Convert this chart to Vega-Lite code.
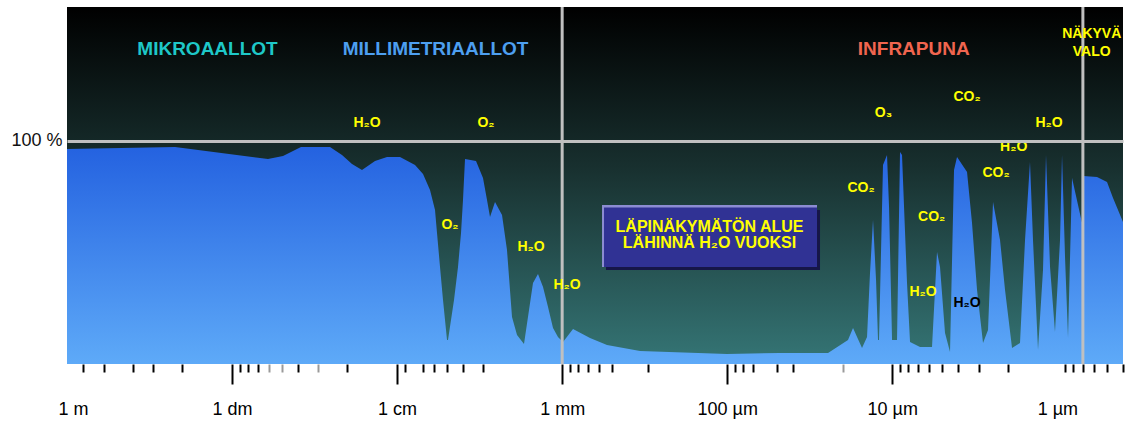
{
  "$schema": "https://vega.github.io/schema/vega-lite/v6.json",
  "width": 1056,
  "height": 357,
  "autosize": {"type": "none"},
  "padding": {"left": 67, "top": 7, "right": 9, "bottom": 57},
  "background": "white",
  "config": {"view": {"stroke": null}, "font": "Liberation Sans"},
  "encoding": {
    "x": {"field": "wl", "type": "quantitative", "scale": {"type": "log", "domain": [0.4, 1000000], "reverse": true, "nice": false},
      "axis": {
        "values": [1000000,800000,600000,400000,300000,200000,100000,90000,80000,70000,60000,50000,40000,30000,20000,10000,9000,7000,6000,5000,4000,3000,1000,900,800,700,600,500,300,100,90,80,70,50,40,20,10,9,8,7,6,5,4,3,2,1,0.9,0.8,0.7,0.6,0.5,0.4],
        "labelExpr": "datum.value==1000000?'1 m':datum.value==100000?'1 dm':datum.value==10000?'1 cm':datum.value==1000?'1 mm':datum.value==100?'100 µm':datum.value==10?'10 µm':datum.value==1?'1 µm':''",
        "title": null, "domain": false, "grid": false,
        "tickColor": {"condition": {"test": "datum.value==60000||datum.value==50000||datum.value==30000||datum.value==20", "value": "#9a9a9a"}, "value": "#000000"},
        "tickSize": {"condition": {"test": "datum.value==1000000||datum.value==100000||datum.value==10000||datum.value==1000||datum.value==100||datum.value==10||datum.value==1", "value": 20}, "value": 8},
        "tickOpacity": {"condition": {"test": "datum.value==1000000||datum.value==1", "value": 0}, "value": 1},
        "tickWidth": 2,
        "labelOffset": {"condition": {"test": "datum.value==1000000", "value": 6}, "value": 0},
        "labelFont": "Liberation Sans", "labelFontSize": 18, "labelColor": "#000000",
        "labelBaseline": "alphabetic", "labelPadding": 30,
        "labelOverlap": false, "labelFlush": false, "labelBound": false
      }
    },
    "y": {"field": "t", "type": "quantitative", "scale": {"domain": [0, 160], "nice": false},
      "axis": {"values": [100], "labelExpr": "'100 %'", "title": null, "ticks": false, "domain": false, "grid": true, "gridColor": "#c0c0c0", "gridWidth": 3, "labelFont": "Liberation Sans", "labelFontSize": 18, "labelColor": "#111111", "labelPadding": 5, "zindex": 1}
    }
  },
  "layer": [
    {
      "data": {"values": [{"wl": 1000000, "wl2": 0.4, "t": 0, "t2": 160}]},
      "mark": {"type": "rect", "stroke": null, "fill": {"gradient": "linear", "x1": 0, "y1": 0, "x2": 0, "y2": 1, "stops": [{"offset": 0, "color": "#000000"}, {"offset": 0.45, "color": "#18302f"}, {"offset": 1, "color": "#357676"}]}},
      "encoding": {"x2": {"field": "wl2"}, "y2": {"field": "t2"}}
    },
    {
      "data": {"values": [
        {"wl":1000000,"t":96.4},{"wl":221600,"t":97.3},{"wl":60560,"t":91.9},{"wl":49120,"t":93.2},{"wl":38220,"t":97.3},{"wl":25500,"t":97.3},{"wl":21570,"t":93.7},{"wl":18760,"t":89.6},{"wl":16320,"t":87.0},{"wl":13610,"t":91.0},{"wl":11510,"t":92.8},{"wl":9603,"t":92.8},{"wl":7790,"t":89.2},{"wl":6967,"t":85.2},{"wl":6319,"t":78.0},{"wl":5893,"t":69.0},{"wl":5731,"t":58.7},{"wl":5496,"t":43.5},{"wl":5271,"t":28.7},{"wl":4985,"t":10.8},{"wl":4916,"t":10.8},{"wl":4521,"t":28.7},{"wl":4276,"t":43.5},{"wl":4100,"t":58.7},{"wl":3988,"t":73.5},{"wl":3878,"t":91.9},{"wl":3326,"t":91.0},{"wl":3017,"t":83.4},{"wl":2853,"t":73.5},{"wl":2736,"t":65.9},{"wl":2552,"t":72.6},{"wl":2314,"t":66.8},{"wl":2159,"t":51.1},{"wl":2013,"t":21.1},{"wl":1877,"t":13.0},{"wl":1703,"t":9.0},{"wl":1502,"t":36.3},{"wl":1401,"t":40.3},{"wl":1306,"t":34.5},{"wl":1218,"t":25.6},{"wl":1136,"t":16.1},{"wl":1060,"t":12.1},{"wl":988,"t":9.9},{"wl":859.5,"t":15.7},{"wl":678,"t":11.7},{"wl":534.9,"t":8.5},{"wl":337.5,"t":5.8},{"wl":100.3,"t":4.5},{"wl":47.87,"t":4.9},{"wl":24.5,"t":4.9},{"wl":18.54,"t":10.8},{"wl":17.29,"t":16.1},{"wl":15.25,"t":7.2},{"wl":14.22,"t":12.1},{"wl":13.64,"t":40.8},{"wl":13.08,"t":64.5},{"wl":12.54,"t":37.7},{"wl":12.2,"t":10.8},{"wl":12.03,"t":10.8},{"wl":11.38,"t":89.2},{"wl":10.76,"t":93.7},{"wl":10.46,"t":70.4},{"wl":10.03,"t":10.8},{"wl":9.358,"t":10.8},{"wl":8.975,"t":95.0},{"wl":8.728,"t":93.7},{"wl":8.14,"t":36.3},{"wl":7.806,"t":9.9},{"wl":6.79,"t":7.6},{"wl":5.743,"t":7.6},{"wl":5.356,"t":50.2},{"wl":5.137,"t":43.5},{"wl":4.79,"t":13.9},{"wl":4.468,"t":5.4},{"wl":4.225,"t":87.0},{"wl":4.052,"t":92.8},{"wl":3.524,"t":86.1},{"wl":3.287,"t":63.2},{"wl":3.065,"t":33.2},{"wl":2.819,"t":9.4},{"wl":2.629,"t":15.2},{"wl":2.452,"t":72.6},{"wl":2.224,"t":55.6},{"wl":2.074,"t":33.2},{"wl":1.881,"t":7.2},{"wl":1.683,"t":9.4},{"wl":1.569,"t":55.6},{"wl":1.464,"t":90.5},{"wl":1.404,"t":55.6},{"wl":1.309,"t":6.3},{"wl":1.221,"t":42.1},{"wl":1.171,"t":93.7},{"wl":1.107,"t":43.5},{"wl":1.033,"t":14.3},{"wl":0.963,"t":55.6},{"wl":0.9364,"t":93.7},{"wl":0.8981,"t":48.0},{"wl":0.8613,"t":11.7},{"wl":0.8145,"t":83.4},{"wl":0.715,"t":64.5},{"wl":0.703,"t":62.3},{"wl":0.697,"t":84.3},{"wl":0.5747,"t":83.8},{"wl":0.4999,"t":81.6},{"wl":0.4597,"t":74.4},{"wl":0.4,"t":63.6}
      ]},
      "mark": {"type": "area", "stroke": null, "fill": {"gradient": "linear", "x1": 0, "y1": 0, "x2": 0, "y2": 1, "stops": [{"offset": 0, "color": "#2462e0"}, {"offset": 1, "color": "#5eaaf8"}]}}
    },
    {
      "data": {"values": [{"wl": 1000, "t": 0, "t2": 160}, {"wl": 0.7, "t": 0, "t2": 160}]},
      "mark": {"type": "rule", "color": "#c0c0c0", "strokeWidth": 3},
      "encoding": {"y2": {"field": "t2"}}
    },
    {
      "data": {"values": [{"wl": 542.4, "wl2": 27.4, "t": 42.1, "t2": 69.0}]},
      "mark": {"type": "rect", "fill": "#161648", "stroke": null},
      "encoding": {"x2": {"field": "wl2"}, "y2": {"field": "t2"}}
    },
    {
      "data": {"values": [{"wl": 573.5, "wl2": 28.57, "t": 43.5, "t2": 71.3}]},
      "mark": {"type": "rect", "fill": "#8c8cd2", "stroke": null},
      "encoding": {"x2": {"field": "wl2"}, "y2": {"field": "t2"}}
    },
    {
      "data": {"values": [{"wl": 557.7, "wl2": 28.57, "t": 43.5, "t2": 70.1}]},
      "mark": {"type": "rect", "fill": "#303294", "stroke": null},
      "encoding": {"x2": {"field": "wl2"}, "y2": {"field": "t2"}}
    },
    {
      "data": {"values": [{"label": "LÄPINÄKYMÄTÖN ALUE", "wl": 128, "t": 61.6}, {"label": "LÄHINNÄ H₂O VUOKSI", "wl": 128, "t": 54.1}]},
      "mark": {"type": "text", "font": "Liberation Sans", "fontWeight": "bold", "fontSize": 16, "color": "#ffff00", "align": "center", "baseline": "middle"},
      "encoding": {"text": {"field": "label"}}
    },
    {
      "data": {"values": [
        {"label": "H₂O", "wl": 15218, "t": 108.0},
        {"label": "O₂", "wl": 2893, "t": 108.0},
        {"label": "O₂", "wl": 4781, "t": 62.3},
        {"label": "H₂O", "wl": 1544, "t": 52.4},
        {"label": "H₂O", "wl": 934.6, "t": 35.4},
        {"label": "O₃", "wl": 11.3, "t": 112.5},
        {"label": "CO₂", "wl": 3.524, "t": 119.7},
        {"label": "H₂O", "wl": 1.123, "t": 108.0},
        {"label": "H₂O", "wl": 1.837, "t": 97.3},
        {"label": "CO₂", "wl": 2.352, "t": 85.6},
        {"label": "CO₂", "wl": 15.47, "t": 78.9},
        {"label": "CO₂", "wl": 5.767, "t": 65.9},
        {"label": "H₂O", "wl": 6.511, "t": 32.3},
        {"label": "NÄKYVÄ", "wl": 0.6188, "t": 147.9},
        {"label": "VALO", "wl": 0.6188, "t": 139.8}
      ]},
      "mark": {"type": "text", "font": "Liberation Sans", "fontWeight": "bold", "fontSize": 14, "color": "#ffff00", "align": "center", "baseline": "middle"},
      "encoding": {"text": {"field": "label"}}
    },
    {
      "data": {"values": [{"label": "H₂O", "wl": 3.524, "t": 27.3}]},
      "mark": {"type": "text", "font": "Liberation Sans", "fontWeight": "bold", "fontSize": 14, "color": "#000000", "align": "center", "baseline": "middle"},
      "encoding": {"text": {"field": "label"}}
    },
    {
      "data": {"values": [{"label": "MIKROAALLOT", "wl": 140850, "t": 141.1}]},
      "mark": {"type": "text", "font": "Liberation Sans", "fontWeight": "bold", "fontSize": 19, "color": "#1ec8c8", "align": "center", "baseline": "middle"},
      "encoding": {"text": {"field": "label"}}
    },
    {
      "data": {"values": [{"label": "MILLIMETRIAALLOT", "wl": 5852, "t": 141.1}]},
      "mark": {"type": "text", "font": "Liberation Sans", "fontWeight": "bold", "fontSize": 19, "color": "#4d9ff0", "align": "center", "baseline": "middle"},
      "encoding": {"text": {"field": "label"}}
    },
    {
      "data": {"values": [{"label": "INFRAPUNA", "wl": 7.413, "t": 141.1}]},
      "mark": {"type": "text", "font": "Liberation Sans", "fontWeight": "bold", "fontSize": 19, "color": "#f0654f", "align": "center", "baseline": "middle"},
      "encoding": {"text": {"field": "label"}}
    }
  ]
}
